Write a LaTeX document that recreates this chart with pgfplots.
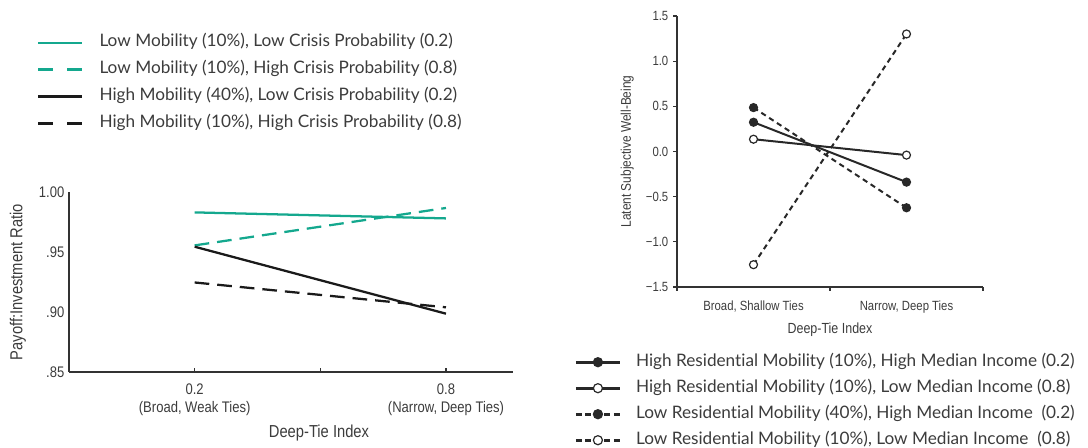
\documentclass[border=0pt]{standalone}
\usepackage{fontspec}
\setmainfont{Lato}[Ligatures={NoCommon}]
\newfontfamily\cond[FakeStretch=0.85]{Liberation Sans}
\usepackage{pgfplots}
\pgfplotsset{compat=1.18}
\definecolor{tealc}{RGB}{20,168,142}
\definecolor{axc}{RGB}{51,51,51}
\definecolor{txt}{RGB}{60,60,60}
\definecolor{ln}{RGB}{40,40,40}
\definecolor{blk}{RGB}{26,26,26}
\pgfplotsset{
  leftdashleg/.style={legend image code/.code={\draw[##1, line width=2pt, dash pattern=on 11.25pt off 10.5pt] (0pt,0pt) -- (33pt,0pt);}},
  rightdashleg/.style={legend image code/.code={\draw[##1, line width=2.2pt, mark size=3.4pt, dash pattern=on 4.5pt off 2.6pt, mark repeat=2, mark phase=2] plot coordinates {(0pt,0pt) (16.5pt,0pt) (33pt,0pt)};}},
}
\begin{document}
\begin{tikzpicture}
\useasboundingbox (0,0) rectangle (816pt,-336pt);
% ---------------- left panel ----------------
\begin{axis}[
  at={(51.75pt,-279pt)}, anchor=south west,
  scale only axis, width=333pt, height=135pt,
  xmin=-0.1, xmax=0.96, ymin=0.85, ymax=1.0,
  axis lines*=left,
  axis line style={axc, line width=0.9pt},
  xtick={0.2,0.5,0.8},
  xticklabels={{0.2\\(Broad, Weak Ties)},{},{0.8\\(Narrow, Deep Ties)}},
  xticklabel style={align=center, font=\cond\fontsize{11.5}{14}\selectfont, text=txt, yshift=-5pt},
  x tick style={axc, line width=0.8pt},
  xtick align=inside, major tick length=3pt,
  ytick={0.85,0.90,0.95,1.00},
  yticklabels={.85,.90,.95,1.00},
  y tick style={draw=none},
  yticklabel style={font=\cond\fontsize{11.5}{14}\selectfont, text=txt},
  xlabel={Deep-Tie Index},
  xlabel style={at={(axis description cs:0.563,-0.339)}, anchor=center, font=\cond\fontsize{13}{15}\selectfont, text=txt},
  ylabel={Payoff:Investment Ratio},
  ylabel style={at={(axis description cs:-0.115,0.5)}, anchor=center, font=\cond\fontsize{13}{15}\selectfont, text=txt},
  legend style={at={(axis description cs:-0.073,1.874)}, anchor=north west, draw=none, fill=none,
    inner sep=0pt, column sep=12pt, row sep=8.1pt,
    font=\fontsize{12.9}{15}\selectfont, text=txt,
    nodes={inner sep=0pt, text height=9pt, text depth=3pt}},
  legend cell align=left,
  legend image code/.code={\draw[#1, line width=2pt] (0pt,0pt) -- (33pt,0pt);},
]
\addplot[tealc, line width=1.7pt] coordinates {(0.2,0.983) (0.8,0.978)};
\addlegendentry{Low Mobility (10\%), Low Crisis Probability (0.2)}
\addplot[tealc, line width=1.7pt, dash pattern=on 11pt off 6pt, leftdashleg]
  coordinates {(0.2,0.9555) (0.8,0.9867)};
\addlegendentry{Low Mobility (10\%), High Crisis Probability (0.8)}
\addplot[blk, line width=1.7pt] coordinates {(0.2,0.9544) (0.8,0.8986)};
\addlegendentry{High Mobility (40\%), Low Crisis Probability (0.2)}
\addplot[blk, line width=1.7pt, dash pattern=on 11pt off 6pt, leftdashleg]
  coordinates {(0.2,0.9246) (0.8,0.9039)};
\addlegendentry{High Mobility (10\%), High Crisis Probability (0.8)}
\end{axis}
% ---------------- right panel ----------------
\begin{axis}[
  at={(507.75pt,-215.25pt)}, anchor=south west,
  scale only axis, width=229.5pt, height=203.25pt,
  xmin=-0.5, xmax=1.5, ymin=-1.5, ymax=1.5,
  axis lines*=left,
  axis line style={axc, line width=0.9pt},
  tick align=outside, major tick length=3pt,
  tick style={axc, line width=0.8pt},
  xtick={-0.5,0.5,1.5}, xticklabels={},
  extra x ticks={0,1},
  extra x tick labels={{Broad, Shallow Ties},{Narrow, Deep Ties}},
  extra x tick style={major tick length=0pt, xticklabel style={yshift=-7pt}},
  xticklabel style={font=\cond\fontsize{10}{12}\selectfont, text=txt},
  ytick={-1.5,-1,-0.5,0,0.5,1,1.5},
  yticklabels={−1.5,−1.0,−0.5,0.0,0.5,1.0,1.5},
  yticklabel style={font=\cond\fontsize{10}{12}\selectfont, text=txt},
  xlabel={Deep-Tie Index},
  xlabel style={at={(axis description cs:0.5,-0.157)}, anchor=center, font=\cond\fontsize{11}{13}\selectfont, text=txt},
  ylabel={Latent Subjective Well-Being},
  ylabel style={at={(axis description cs:-0.163,0.5)}, anchor=center, font=\cond\fontsize{10.5}{12}\selectfont, text=txt},
  legend style={at={(axis description cs:-0.336,-0.247)}, anchor=north west, draw=none, fill=none,
    inner sep=0pt, column sep=11pt, row sep=7.5pt,
    font=\fontsize{12.9}{15}\selectfont, text=txt,
    nodes={inner sep=0pt, text height=9pt, text depth=3pt}},
  legend cell align=left,
  legend image code/.code={\draw[#1, line width=2.2pt, mark size=3.4pt, mark repeat=2, mark phase=2] plot coordinates {(0pt,0pt) (16.5pt,0pt) (33pt,0pt)};},
]
\addplot[ln, line width=1.5pt, mark=*, mark size=3pt, mark options={solid, fill=ln, draw=ln, line width=0.9pt}]
  coordinates {(0,0.324) (1,-0.339)};
\addlegendentry{High Residential Mobility (10\%), High Median Income (0.2)}
\addplot[ln, line width=1.5pt, mark=*, mark size=3pt, mark options={solid, fill=white, draw=ln, line width=0.9pt}]
  coordinates {(0,0.136) (1,-0.040)};
\addlegendentry{High Residential Mobility (10\%), Low Median Income (0.8)}
\addplot[ln, line width=1.5pt, dash pattern=on 4pt off 3pt, mark=*, mark size=3pt, mark options={solid, fill=ln, draw=ln, line width=0.9pt}, rightdashleg]
  coordinates {(0,0.486) (1,-0.623)};
\addlegendentry{Low Residential Mobility (40\%), High Median Income\ \ (0.2)}
\addplot[ln, line width=1.5pt, dash pattern=on 4pt off 3pt, mark=*, mark size=3pt, mark options={solid, fill=white, draw=ln, line width=0.9pt}, rightdashleg]
  coordinates {(0,-1.253) (1,1.301)};
\addlegendentry{Low Residential Mobility (10\%), Low Median Income\ \ (0.8)}
\end{axis}
\end{tikzpicture}
\end{document}
